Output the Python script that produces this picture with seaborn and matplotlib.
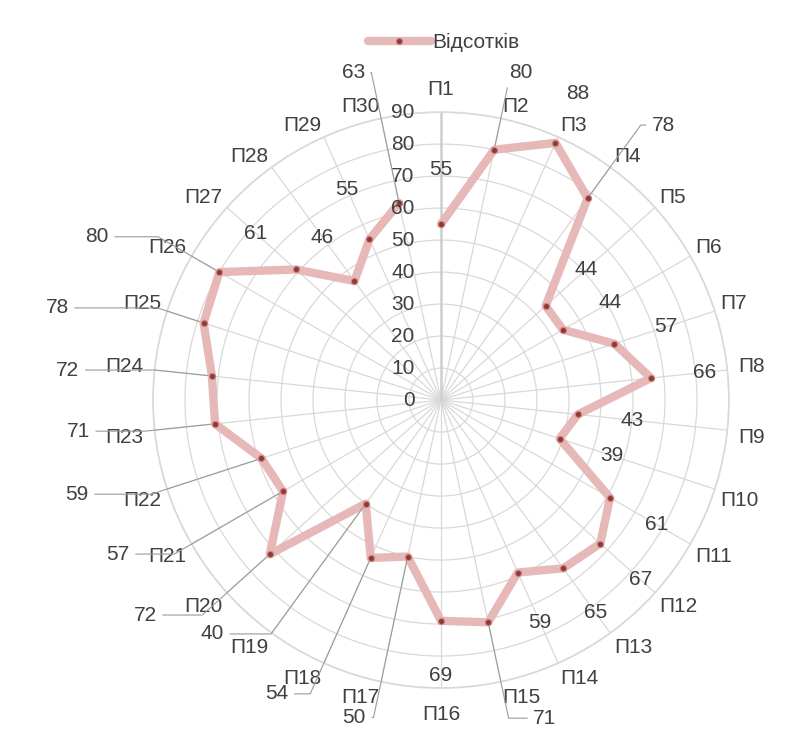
import numpy as np
import pandas as pd
import seaborn as sns
import matplotlib
matplotlib.use("Agg")
import matplotlib.pyplot as plt

# data
categories = [f"П{i}" for i in range(1, 31)]
values = [55, 80, 88, 78, 44, 44, 57, 66, 43, 39,
          61, 67, 65, 59, 71, 69, 50, 54, 40, 72,
          57, 59, 71, 72, 78, 80, 61, 46, 55, 63]
series_name = "Відсотків"
r_ticks = list(range(0, 100, 10))

# value labels pushed outside with a leader line: index -> (angle deg, radius)
callouts = {1: (13.7, 105.5), 3: (39, 110.6), 14: (161.9, 104.6), 16: (195.3, 102.8),
            17: (209.2, 105.2), 18: (224.4, 102.3), 19: (234, 114.3), 20: (244.5, 111.8),
            21: (255.5, 117.5), 22: (265.1, 113.8), 23: (274.6, 117), 24: (283.5, 123.4),
            25: (295.4, 119), 29: (345, 106)}

sns.set_theme(style="white")
plt.rcParams['font.family'] = ['Liberation Sans', 'DejaVu Sans']
txt_col = "#404040"
grid_col = "#d9d9d9"
line_col = "#E6B9B8"
dot_col = "#953735"
fs = 15

n = len(categories)
angles = np.deg2rad(np.arange(n) * 360 / n)
df = pd.DataFrame({"theta": np.append(angles, angles[0]),
                   "value": values + values[:1]})

fig = plt.figure(figsize=(7.9, 7.29), dpi=100)
ax = fig.add_axes([0.1937, 0.0562, 0.729, 0.790], projection="polar")
ax.set_theta_zero_location("N")
ax.set_theta_direction(-1)

sns.lineplot(data=df, x="theta", y="value", sort=False, ax=ax,
             color=line_col, linewidth=6, marker="o", markersize=4.5,
             markerfacecolor=dot_col, markeredgecolor="#c98b8a",
             markeredgewidth=0.8, label=series_name, zorder=3)

ax.set_ylim(0, 90)
ax.set_yticks(r_ticks)
ax.set_yticklabels([])
ax.set_xticks(angles)
ax.set_xticklabels([])
ax.set_xlabel("")
ax.set_ylabel("")
ax.grid(True, color=grid_col, linewidth=0.9)
ax.spines["polar"].set_color(grid_col)
ax.axvline(0, color="#cfcfcf", linewidth=1.8, zorder=1)

for t in r_ticks:
    ax.annotate(str(t), xy=(0, t), xytext=(-19, 0), textcoords="offset points",
                ha="right", va="center", fontsize=fs, color=txt_col)

# category labels: box corner sits on a ring just outside the grid
fig.canvas.draw()
renderer = fig.canvas.get_renderer()
cap = 0.716 * fs * fig.dpi / 72
for a, c in zip(angles, categories):
    ux, uy = np.sin(a), np.cos(a)
    fx = np.clip(ux / 0.2, -1, 1)
    fy = np.clip(uy / 0.2, -1, 1)
    R = 294 + 11 * (1 - abs(fx * fy))
    t = ax.annotate(c, xy=(0, 0), xytext=(0, 0), textcoords="offset pixels",
                    ha="center", va="baseline", fontsize=fs, color=txt_col,
                    annotation_clip=False)
    w = t.get_window_extent(renderer).width
    t.xyann = (R * ux + fx * w / 2, R * uy + fy * cap / 2 - cap / 2)

for i, (a, v) in enumerate(zip(angles, values)):
    if i in callouts:
        deg, rad = callouts[i]
        ang_b = 90 - np.rad2deg(a)
        ax.annotate(str(v), xy=(a, v), xytext=(np.deg2rad(deg), rad),
                    ha="center", va="center", fontsize=fs, color=txt_col,
                    annotation_clip=False,
                    arrowprops=dict(arrowstyle="-", color="#9a9a9a", lw=0.8,
                                    shrinkA=2, shrinkB=3,
                                    connectionstyle=f"angle,angleA=0,angleB={ang_b},rad=0"))
    else:
        ax.text(a, v + 17, str(v), ha="center", va="center",
                fontsize=fs, color=txt_col)

leg = ax.legend(loc="center", bbox_to_anchor=(0.562, 0.942),
                bbox_transform=fig.transFigure, frameon=False, fontsize=fs,
                handlelength=3.0, handletextpad=0.1, numpoints=1)
for t in leg.get_texts():
    t.set_color(txt_col)

fig.savefig("out.png", dpi=100, facecolor="white")
